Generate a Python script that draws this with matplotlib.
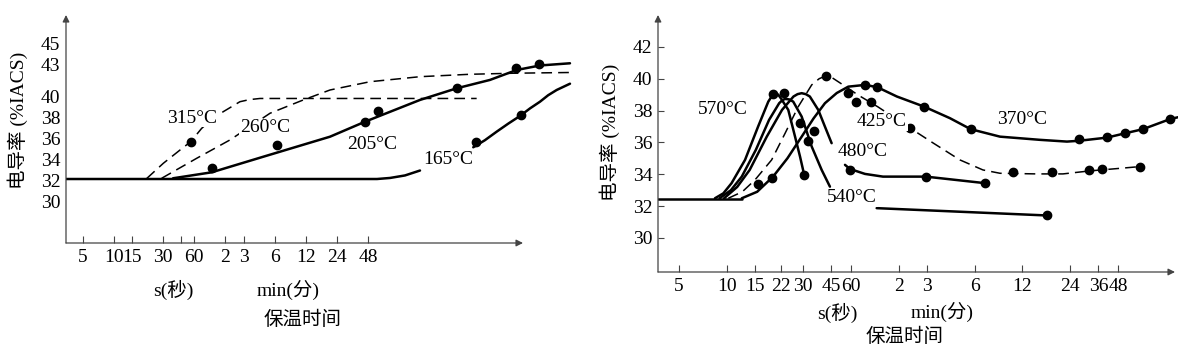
import matplotlib.pyplot as plt
from matplotlib.ticker import NullLocator

plt.rcParams['font.family'] = ['Liberation Serif', 'Noto Sans CJK SC']
plt.rcParams['font.size'] = 14

W, H = 1178, 350

# ---- left panel: times in seconds, conductivity in %IACS ----
left_ticks = [5, 10, 15, 30, 45, 60, 120, 180, 360, 720, 1440, 2880]
left_ticklabels = ['5', '10', '15', '30', '', '60', '2', '3', '6', '12', '24', '48']
left_yticks = [30, 32, 34, 36, 38, 40, 43, 45]

t165a = [3.4, 3525, 4710, 6575, 9190]
v165a = [32.1, 32.1, 32.2, 32.44, 32.91]
t165b = [30130, 39000, 50780, 66000, 85400, 107000, 133300, 160000, 193400, 260200]
v165b = [35.13, 35.8, 36.62, 37.4, 38.12, 38.85, 39.48, 40.1, 40.60, 41.2]
t205 = [37.4, 88.5, 280, 1237, 2697, 9190, 20820, 43700, 79300, 133300, 260200]
v205 = [32.17, 32.74, 34.23, 36.14, 37.57, 39.65, 40.76, 41.56, 42.51, 42.94, 43.15]
t260 = [29.0, 63.4, 133, 325, 682, 1237, 3015, 9190, 28000, 73000, 260200]
v260 = [32.17, 34.08, 35.83, 38.38, 39.65, 40.60, 41.39, 41.87, 42.10, 42.20, 42.27]
t315 = [20.8, 30.1, 43.7, 55.4, 70.8, 90.0, 114.6, 166, 205, 260, 633, 32500]
v315 = [32.15, 33.60, 34.87, 35.66, 36.94, 37.85, 38.53, 39.48, 39.68, 39.79, 39.79, 39.79]
left_dot_t = [55.4, 88.5, 377, 2697, 3628, 20820, 77600, 131300, 32000, 87300]
left_dot_v = [35.66, 33.18, 35.35, 37.57, 38.60, 40.76, 42.73, 43.06, 35.66, 38.21]

# ---- right panel ----
right_ticks = [5, 10, 15, 22, 30, 45, 60, 120, 180, 360, 720, 1440, 2160, 2880]
right_ticklabels = ['5', '10', '15', '22', '30', '45', '60', '2', '3', '6', '12', '24', '36', '48']
right_yticks = [30, 32, 34, 36, 38, 40, 42]

t_base = [3.7, 12.4]
v_base = [32.45, 32.45]
t570 = [8.41, 9.5, 10.7, 13.0, 15.7, 18.2, 19.2, 20.0, 21.0, 21.9, 24.3, 26.8, 28.8, 30.6]
v570 = [32.49, 32.8, 33.44, 34.90, 36.99, 38.56, 38.92, 39.05, 39.0, 38.75, 38.04, 36.36,
        35.11, 33.96]
t540 = [9.0, 10.6, 12.4, 15.2, 18.4, 21.3, 22.3, 23.2, 24.6, 26.1, 29.5, 34.1, 39.4, 44.4]
v540 = [32.49, 33.0, 33.85, 35.53, 37.41, 38.46, 38.65, 38.73, 38.7, 38.56, 37.62, 35.74,
        34.27, 33.22]
t480 = [9.6, 11.6, 13.9, 17.8, 22.2, 26.2, 27.8, 29.5, 31.3, 33.2, 37.5, 41.3, 45.5]
v480 = [32.49, 33.2, 34.27, 36.36, 38.04, 38.88, 39.03, 39.09, 39.03, 38.88, 38.04, 36.99,
        35.95]
t425 = [10.2, 12.5, 15.0, 19.1, 23.2, 28.1, 34.1, 38.0, 41.9, 46.0, 51.3, 66.6, 88.9, 141,
        197, 291, 406, 520, 888, 1293, 1911, 2951, 3940]
v425 = [32.49, 32.9, 33.64, 34.90, 36.57, 38.25, 39.61, 40.0, 40.18, 40.05, 39.74, 38.98,
        38.23, 36.91, 35.97, 34.90, 34.27, 34.06, 34.02, 34.02, 34.21, 34.37, 34.48]
t370 = [12.4, 15.5, 19.5, 24.0, 29.5, 35.0, 41.3, 49.0, 57.9, 73.7, 88.0, 117, 173, 252,
        340, 520, 927, 1370, 1630, 2444, 3172, 4115, 6080, 6830]
v370 = [32.49, 32.9, 33.85, 35.0, 36.36, 37.5, 38.46, 39.1, 39.50, 39.61, 39.47, 38.88,
        38.25, 37.52, 36.83, 36.36, 36.16, 36.05, 36.1, 36.3, 36.57, 36.83, 37.46, 37.58]
t480b = [55.2, 59.3, 73.7, 95.6, 178, 418]
v480b = [34.59, 34.33, 34.02, 33.85, 33.85, 33.44]
t540b = [87.3, 1026]
v540b = [31.87, 31.41]
right_dot_t = [19.5, 22.8, 28.8, 35.4, 32.4, 30.6, 15.7, 19.1,
               41.9, 141, 630, 1098, 1893, 2265, 3940,
               57.9, 65.0, 73.5, 80.0, 88.0, 173, 340, 1630, 2460, 3172, 4140, 6080,
               59.0, 178, 418, 1026]
right_dot_v = [39.05, 39.09, 37.20, 36.72, 36.09, 33.96, 33.37, 33.75,
               40.18, 36.89, 34.13, 34.16, 34.27, 34.33, 34.48,
               39.09, 38.56, 39.61, 38.56, 39.47, 38.25, 36.83, 36.22, 36.36, 36.57, 36.83, 37.46,
               34.27, 33.85, 33.44, 31.41]


def px(x, y):
    return x / W, 1 - y / H


def setup(ax, xlim, ylim, ticks, labels, yticks, yticklen, xend):
    ax.set_xscale('log')
    ax.set_xlim(*xlim)
    ax.set_ylim(*ylim)
    ax.set_xticks(ticks, labels=labels)
    ax.xaxis.set_minor_locator(NullLocator())
    ax.set_yticks(yticks)
    ax.yaxis.set_minor_locator(NullLocator())
    ax.tick_params(axis='x', direction='in', length=5, width=0.8, color='#444', pad=4)
    ax.tick_params(axis='y', direction='in', length=yticklen, width=0.8, color='#444', pad=4)
    for s in ax.spines.values():
        s.set_visible(False)
    arrow = dict(arrowstyle='-|>', lw=0.9, color='#444', mutation_scale=10,
                 shrinkA=0, shrinkB=0)
    ax.annotate('', xy=(0, 1), xytext=(0, 0), xycoords='axes fraction', arrowprops=arrow)
    ax.annotate('', xy=(xend, 0), xytext=(0, 0), xycoords='axes fraction', arrowprops=arrow)
    ax.set_facecolor('none')


fig = plt.figure(figsize=(W / 100, H / 100), dpi=100)

solid = dict(color='black', lw=1.8, solid_capstyle='round', solid_joinstyle='round')
dashed = dict(color='black', lw=1.1, dashes=(7, 4))
dot = dict(ls='none', marker='o', ms=6, color='black')
lab = dict(ha='center', va='center', fontsize=14,
           bbox=dict(fc='white', ec='none', pad=0.5), zorder=5)

# left panel
ax1 = fig.add_axes([66 / W, (H - 243) / H, 509 / W, 228 / H])
setup(ax1, (3.44, 291000), (25.99, 47.76), left_ticks, left_ticklabels,
      left_yticks, 0, (523 - 66) / 509)
ax1.plot(t165a, v165a, **solid)
ax1.plot(t165b, v165b, **solid)
ax1.plot(t205, v205, **solid)
ax1.plot(t260, v260, **dashed)
ax1.plot(t315, v315, **dashed)
ax1.plot(left_dot_t, left_dot_v, **dot)

# right panel
ax2 = fig.add_axes([658 / W, (H - 272) / H, 520 / W, 257 / H])
setup(ax2, (3.69, 6830), (27.86, 44.0), right_ticks, right_ticklabels,
      right_yticks, 4, (1175 - 658) / 520)
ax2.plot(t_base, v_base, **solid)
ax2.plot(t570, v570, **solid)
ax2.plot(t540, v540, **solid)
ax2.plot(t480, v480, **solid)
ax2.plot(t425, v425, **dashed)
ax2.plot(t370, v370, **solid)
ax2.plot(t480b, v480b, **solid)
ax2.plot(t540b, v540b, **solid)
ax2.plot(right_dot_t, right_dot_v, **dot)

# curve labels
for s, (x, y) in [('315°C', (192, 118)), ('260°C', (265, 128)), ('205°C', (372, 144)),
                  ('165°C', (448, 160)), ('570°C', (723, 110)), ('425°C', (882, 122)),
                  ('480°C', (863, 152)), ('540°C', (852, 198)), ('370°C', (1022, 120))]:
    fig.text(*px(x, y), s, **lab)

# axis titles
fig.text(*px(173, 290), 's(秒)', ha='center', va='center')
fig.text(*px(288, 290), 'min(分)', ha='center', va='center')
fig.text(*px(303, 320), '保温时间', ha='center', va='center')
fig.text(*px(18, 120), '电导率 (%IACS)', ha='center', va='center', rotation=90)
fig.text(*px(837, 313), 's(秒)', ha='center', va='center')
fig.text(*px(942, 312), 'min(分)', ha='center', va='center')
fig.text(*px(905, 337), '保温时间', ha='center', va='center')
fig.text(*px(610, 132), '电导率 (%IACS)', ha='center', va='center', rotation=90)

fig.savefig('out.png', dpi=100)
